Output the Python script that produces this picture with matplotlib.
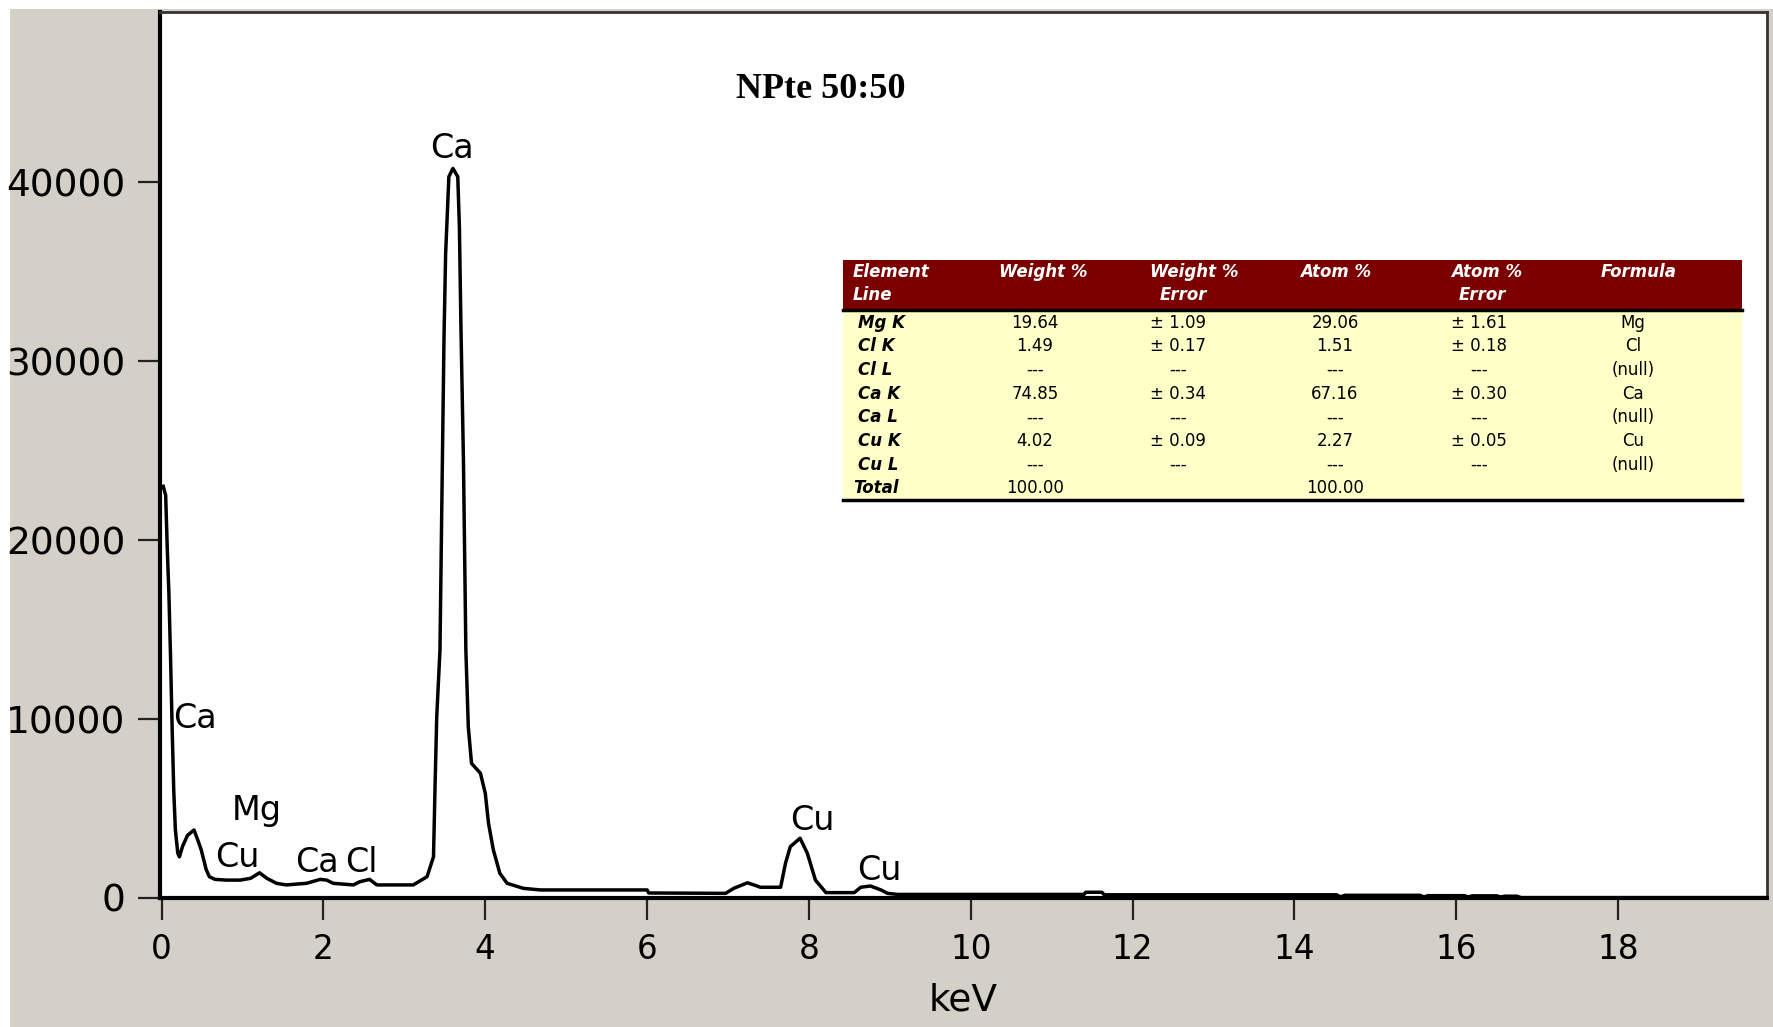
import matplotlib
matplotlib.use('Agg')
import matplotlib.pyplot as plt
from matplotlib.patches import Rectangle

# EDS spectrum (keV, counts)
kev = [0.02, 0.05, 0.07, 0.09, 0.11, 0.13, 0.15, 0.17, 0.20, 0.22, 0.26, 0.32,
       0.40, 0.45, 0.49, 0.55, 0.59, 0.66, 0.80, 0.97, 1.10, 1.21, 1.30, 1.42,
       1.54, 1.79, 1.96, 2.04, 2.12, 2.37, 2.45, 2.57, 2.66, 3.11, 3.28, 3.36,
       3.38, 3.40, 3.44, 3.47, 3.49, 3.51, 3.55, 3.60, 3.66, 3.68, 3.70, 3.73,
       3.76, 3.79, 3.83, 3.94, 4.00, 4.04, 4.10, 4.18, 4.27, 4.47, 4.68, 6.00,
       6.02, 6.97, 7.07, 7.24, 7.32, 7.40, 7.65, 7.71, 7.77, 7.89, 7.98, 8.08,
       8.21, 8.56, 8.64, 8.76, 8.89, 8.97, 9.10, 11.40, 11.42, 11.62, 11.65,
       14.52, 14.57, 14.62, 15.55, 15.60, 15.65, 16.10, 16.15, 16.20, 16.50,
       16.55, 16.60, 16.75, 16.80, 19.84]
counts = [23000, 22500, 19500, 17000, 13500, 9500, 6000, 3800, 2500, 2300, 2900, 3500,
          3800, 3200, 2680, 1600, 1190, 1040, 1000, 1000, 1100, 1410, 1100, 820,
          730, 820, 1040, 1000, 820, 730, 910, 1040, 730, 730, 1190, 2300,
          6400, 10130, 13850, 24470, 31360, 36000, 40300, 40760, 40300, 37500, 31700, 24470,
          13850, 9570, 7520, 6970, 5850, 4170, 2680, 1380, 820, 540, 450, 450,
          280, 260, 540, 850, 730, 600, 600, 1940, 2870, 3340, 2500, 1000,
          300, 300, 600, 670, 450, 260, 200, 200, 320, 320, 180,
          180, 60, 150, 150, 60, 130, 130, 60, 120, 120,
          60, 100, 100, 20, 20]

# peak labels
peak_names = ['Ca', 'Ca', 'Mg', 'Cu', 'Ca', 'Cl', 'Cu', 'Cu']
peak_kev = [3.585, 0.415, 1.17, 0.93, 1.92, 2.47, 8.04, 8.87]
peak_cnt = [41340, 9500, 4360, 1730, 1450, 1450, 3800, 1000]

xticks = [0, 2, 4, 6, 8, 10, 12, 14, 16, 18]
yticks = [0, 10000, 20000, 30000, 40000]

# quantification table
head1 = ['Element', 'Weight %', 'Weight %', 'Atom %', 'Atom %', 'Formula']
head2 = ['Line', '', 'Error', '', 'Error', '']
lines = ['Mg K', 'Cl K', 'Cl L', 'Ca K', 'Ca L', 'Cu K', 'Cu L', 'Total']
wt = ['19.64', '1.49', '---', '74.85', '---', '4.02', '---', '100.00']
wt_err = ['± 1.09', '± 0.17', '---', '± 0.34', '---', '± 0.09', '---', '']
at = ['29.06', '1.51', '---', '67.16', '---', '2.27', '---', '100.00']
at_err = ['± 1.61', '± 0.18', '---', '± 0.30', '---', '± 0.05', '---', '']
formula = ['Mg', 'Cl', '(null)', 'Ca', '(null)', 'Cu', '(null)', '']

W, H = 1774, 1027
gray = '#d4d0c8'
fig = plt.figure(figsize=(W / 100, H / 100), dpi=100)
fig.patch.set_facecolor('white')
fig.add_artist(Rectangle((10 / W, 0), 1, 1 - 9 / H, transform=fig.transFigure,
                         facecolor=gray, edgecolor='none', zorder=-10))

ax = fig.add_axes([160 / W, 1 - 898 / H, (1767 - 160) / W, (898 - 12) / H])
ax.set_facecolor('white')
ax.plot(kev, counts, color='black', lw=2.5)
ax.set_xlim(-0.02, 19.84)
ax.set_ylim(0, 49500)
ax.set_xticks(xticks)
ax.set_yticks(yticks)
ax.set_xticklabels([str(t) for t in xticks], fontsize=23.5, family='DejaVu Sans')
ax.set_yticklabels([str(t) for t in yticks], fontsize=27, family='DejaVu Sans')
ax.tick_params(direction='out', length=16, width=1.6, color='#222222', pad=9)
ax.set_xlabel('keV', fontsize=27, labelpad=12)
for s in ['left', 'bottom']:
    ax.spines[s].set_linewidth(3)
    ax.spines[s].set_color('black')
for s in ['top', 'right']:
    ax.spines[s].set_linewidth(2)
    ax.spines[s].set_color('#333333')

for name, x, y in zip(peak_names, peak_kev, peak_cnt):
    ax.text(x, y, name, fontsize=24, ha='center', va='baseline')

# overlay in pixel coordinates for title and table
ov = fig.add_axes([0, 0, 1, 1])
ov.set_xlim(0, W)
ov.set_ylim(H, 0)
ov.axis('off')
ov.patch.set_alpha(0)

ov.text(821, 90, 'NPte 50:50', fontsize=26, fontweight='bold',
        family='Liberation Serif', ha='center', va='center')

tx0, tx1 = 843, 1742
ov.add_patch(Rectangle((tx0, 260), tx1 - tx0, 49, facecolor='#7b0000', edgecolor='none'))
ov.add_patch(Rectangle((tx0, 309), tx1 - tx0, 191, facecolor='#ffffc8', edgecolor='none'))
ov.plot([tx0, tx1], [309.5, 309.5], color='black', lw=2.5)
ov.plot([tx0, tx1], [500, 500], color='black', lw=2.5)

hx = [853, 1043, 1194, 1336, 1487, 1639]
hx2 = [853, 1043, 1183, 1336, 1482, 1639]
for i in range(6):
    ha = 'left' if i == 0 else 'center'
    ov.text(hx[i], 272, head1[i], color='white', fontsize=12, fontweight='bold',
            style='italic', ha=ha, va='center')
    if head2[i]:
        ov.text(hx2[i], 295, head2[i], color='white', fontsize=12, fontweight='bold',
                style='italic', ha=ha, va='center')

vx = [1035, 1178, 1335, 1479, 1633]
for r in range(len(lines)):
    y = 322.5 + 23.7 * r
    lx = 853 if lines[r] == 'Total' else 858
    ov.text(lx, y, lines[r], fontsize=12, fontweight='bold', style='italic',
            ha='left', va='center')
    for c, col in enumerate([wt, wt_err, at, at_err, formula]):
        if col[r]:
            ov.text(vx[c], y, col[r], fontsize=12, ha='center', va='center')

fig.savefig('out.png', dpi=100, facecolor=fig.get_facecolor())
